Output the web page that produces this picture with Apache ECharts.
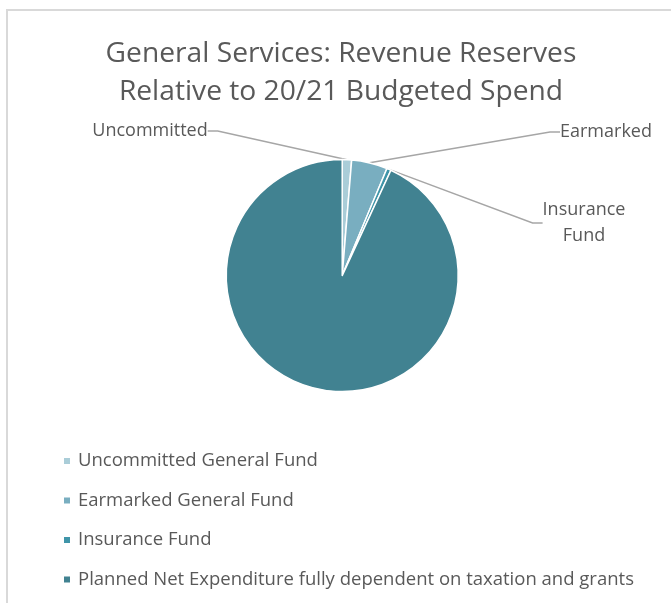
<!DOCTYPE html>
<html>
<head>
<meta charset="utf-8">
<script src="https://cdn.jsdelivr.net/npm/echarts@6/dist/echarts.min.js"></script>
<style>
  html, body { margin: 0; padding: 0; background: #fff; }
  #frame { position: absolute; left: 6px; top: 9px; width: 800px; height: 700px;
           border-top: 2px solid #d9d9d9; border-left: 2px solid #d9d9d9; }
  #chart { position: absolute; left: 0; top: 0; width: 671px; height: 603px; }
</style>
</head>
<body>
<div id="frame"></div>
<div id="chart"></div>
<script>
const titleLines = ['General Services: Revenue Reserves', 'Relative to 20/21 Budgeted Spend'];
const categories = [
  'Uncommitted General Fund',
  'Earmarked General Fund',
  'Insurance Fund',
  'Planned Net Expenditure fully dependent on taxation and grants'
];
const shortLabels = ['Uncommitted', 'Earmarked', 'Insurance\nFund', ''];
const values = [1.3, 5.0, 0.6, 93.1];
const colors = ['#aacdd8', '#79aec0', '#3f95a9', '#418291'];

// label placements (layout only)
const labelPlaces = [
  { x: 150, y: 131, align: 'center' },
  { x: 560, y: 132, align: 'left' },
  { x: 584, y: 223, align: 'center' },
  null
];

const FONT = '"Open Sans", "Liberation Sans", sans-serif';
const chart = echarts.init(document.getElementById('chart'), null, { renderer: 'canvas' });

chart.setOption({
  backgroundColor: 'transparent',
  animation: false,
  title: {
    text: titleLines.join('\n'),
    left: 341,
    top: 35,
    padding: 0,
    textAlign: 'center',
    textStyle: { fontFamily: FONT, fontSize: 28.2, fontWeight: 'normal', color: '#595959', lineHeight: 38 }
  },
  legend: {
    orient: 'vertical',
    left: 57,
    top: 445,
    itemWidth: 8,
    itemHeight: 8,
    itemGap: 17.5,
    icon: 'rect',
    data: categories,
    textStyle: { fontFamily: FONT, fontSize: 18.5, color: '#595959', lineHeight: 22, padding: [0, 0, 0, 2] }
  },
  series: [{
    type: 'pie',
    center: ['51%', '45.7%'],
    radius: 116,
    startAngle: 90,
    clockwise: true,
    data: categories.map((c, i) => ({
      name: c,
      value: values[i],
      itemStyle: { color: colors[i] },
      label: { show: i < 3, formatter: shortLabels[i] },
      labelLine: { show: i < 3 }
    })),
    itemStyle: { borderColor: '#fff', borderWidth: 1.5 },
    label: {
      position: 'outside',
      fontFamily: FONT, fontSize: 18, color: '#595959', lineHeight: 26
    },
    labelLine: { length: 10, length2: 10, lineStyle: { color: '#a6a6a6', width: 1.5 } },
    labelLayout: function (params) {
      const p = labelPlaces[params.dataIndex];
      if (!p) return {};
      return { x: p.x, y: p.y, align: p.align, verticalAlign: 'middle' };
    }
  }]
});
</script>
</body>
</html>
